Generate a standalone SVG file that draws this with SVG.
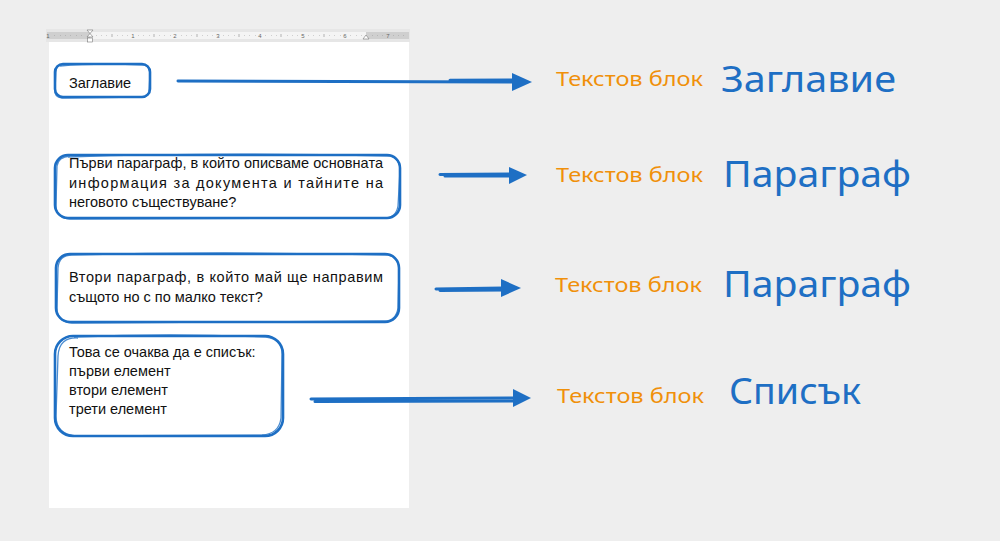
<svg xmlns="http://www.w3.org/2000/svg" width="1000" height="541" viewBox="0 0 1000 541">
<defs>
<style>
.sk{fill:none;stroke:#1e6fc4;stroke-width:2.6;stroke-linejoin:round;stroke-linecap:round}
.sk2{fill:none;stroke:#1e6fc4;stroke-width:1.3;opacity:.8}
.doc{font-family:"Liberation Sans",Arial,sans-serif;font-size:14.5px;fill:#111}
.lbl{font-family:"Noto Sans","Liberation Sans",sans-serif;font-size:20px;fill:#f0900a}
.big{font-family:"Noto Sans","Liberation Sans",sans-serif;font-size:36px;fill:#1e6fc4}
.ln{stroke:#1e6fc4;stroke-width:3;stroke-linecap:round;fill:none}
.hd{fill:#1e6fc4}
.rt{font-family:"Liberation Sans",sans-serif;font-size:6px;fill:#666}
</style>
</defs>
<rect width="1000" height="541" fill="#eeeeee"/>
<g id="page">
<rect x="49" y="42" width="360" height="466" fill="#ffffff"/>
<rect x="46" y="29" width="364" height="13" fill="#e6e6e6"/>
<rect x="47" y="32" width="362" height="7" fill="#f4f4f4"/>
<rect x="47" y="32" width="43" height="7" fill="#cfcfcf"/>
<rect x="366" y="32" width="43" height="7" fill="#cfcfcf"/>
<g stroke="#888" stroke-width="0.6">
<path d="M54 35.5h0.6M60 35.5h0.6M65 35.5h0.6M70 35.5h0.6M76 35.5h0.6M81 35.5h0.6M96 35.5h0.6M101 35.5h0.6M106 35.5h0.6M112 34v3M117 35.5h0.6M122 35.5h0.6M127 35.5h0.6M138 35.5h0.6M143 35.5h0.6M149 35.5h0.6M154 34v3M159 35.5h0.6M164 35.5h0.6M170 35.5h0.6M181 35.5h0.6M186 35.5h0.6M191 35.5h0.6M197 34v3M202 35.5h0.6M207 35.5h0.6M212 35.5h0.6M223 35.5h0.6M228 35.5h0.6M234 35.5h0.6M239 34v3M244 35.5h0.6M249 35.5h0.6M255 35.5h0.6M265 35.5h0.6M271 35.5h0.6M276 35.5h0.6M281 34v3M287 35.5h0.6M292 35.5h0.6M297 35.5h0.6M308 35.5h0.6M313 35.5h0.6M319 35.5h0.6M324 34v3M329 35.5h0.6M334 35.5h0.6M340 35.5h0.6M350 35.5h0.6M356 35.5h0.6M361 35.5h0.6M372 35.5h0.6M377 35.5h0.6M382 35.5h0.6M393 35.5h0.6M398 35.5h0.6M403 35.5h0.6"/>
</g>
<g class="rt" text-anchor="middle">
<text x="48" y="37.5">1</text>
<text x="133" y="37.5">1</text>
<text x="175" y="37.5">2</text>
<text x="218" y="37.5">3</text>
<text x="260" y="37.5">4</text>
<text x="303" y="37.5">5</text>
<text x="345" y="37.5">6</text>
<text x="388" y="37.5">7</text>
</g>
<path d="M87 30h6l-3 3.5z M87 37h6l-3-3.5z" fill="#fff" stroke="#777" stroke-width="0.6"/>
<rect x="87.5" y="38" width="5" height="4" fill="#fff" stroke="#777" stroke-width="0.6"/>
<path d="M363 39h6l-3-4z" fill="#fff" stroke="#777" stroke-width="0.6"/>
</g>
<g id="connectors">
<path class="ln" d="M178 81 L515 82"/>
<path class="ln" d="M450 80.2 L512 80" stroke-width="1.2"/>
<path class="hd" d="M512 73 L532 82 L512 91 Z"/>
<path class="ln" d="M440 174.5 L510 174"/>
<path class="ln" d="M445 176 L520 176" stroke-width="1.2"/>
<path class="hd" d="M509 167 L527 175 L509 184 Z"/>
<path class="ln" d="M436 289 L503 288"/>
<path class="ln" d="M440 290.5 L505 290" stroke-width="1.2"/>
<path class="hd" d="M501 279 L521 288 L501 297 Z"/>
<path class="ln" d="M311 399 L515 398"/>
<path class="ln" d="M315 401.5 L520 401" stroke-width="1.2"/>
<path class="hd" d="M513 389 L531 398 L513 407 Z"/>
</g>
<g id="box-title">
<rect class="sk" x="55" y="64" width="95" height="33" rx="8"/>
<path class="sk2" d="M60 66 Q95 63 144 65 Q150 66 150 74 L149 92 Q147 98 140 97 L62 98 Q54 97 55 90 L56 70 Q57 65 62 65"/>
<text class="doc" x="69" y="88">Заглавие</text>
</g>
<g id="box-para1">
<rect class="sk" x="55" y="155" width="345" height="63" rx="13"/>
<path class="sk2" d="M68 157 Q220 152 390 156 Q400 158 400 170 L398 206 Q396 218 384 218 L70 219 Q56 218 56 206 L57 166 Q58 157 70 156"/>
<text class="doc" x="69" y="168" textLength="314" lengthAdjust="spacing">Първи параграф, в който описваме основната</text>
<text class="doc" x="69" y="188" textLength="314" lengthAdjust="spacing">информация за документа и тайните на</text>
<text class="doc" x="69" y="207">неговото съществуване?</text>
</g>
<g id="box-para2">
<rect class="sk" x="56" y="254" width="343" height="68" rx="14"/>
<path class="sk2" d="M70 255 Q220 251 388 255 Q399 257 399 270 L398 308 Q396 321 384 321 L72 323 Q57 322 57 308 L58 268 Q59 255 72 255"/>
<text class="doc" x="69" y="282" textLength="314" lengthAdjust="spacing">Втори параграф, в който май ще направим</text>
<text class="doc" x="69" y="302">същото но с по малко текст?</text>
</g>
<g id="box-list">
<rect class="sk" x="55" y="336" width="228" height="100" rx="18"/>
<path class="sk2" d="M74 337 Q170 333 266 337 Q283 339 282 356 L281 418 Q279 434 262 435 L76 436 Q56 434 56 416 L58 356 Q59 337 78 338"/>
<text class="doc" x="69" y="357">Това се очаква да е списък:</text>
<text class="doc" x="69" y="376">първи елемент</text>
<text class="doc" x="69" y="395">втори елемент</text>
<text class="doc" x="69" y="414">трети елемент</text>
</g>
<g id="label-title">
<text class="lbl" x="556" y="86" textLength="147" lengthAdjust="spacingAndGlyphs">Текстов блок</text>
<text class="big" x="721" y="92" textLength="175" lengthAdjust="spacingAndGlyphs">Заглавие</text>
</g>
<g id="label-para1">
<text class="lbl" x="556" y="182" textLength="147" lengthAdjust="spacingAndGlyphs">Текстов блок</text>
<text class="big" x="723" y="187" textLength="188" lengthAdjust="spacingAndGlyphs">Параграф</text>
</g>
<g id="label-para2">
<text class="lbl" x="555" y="292" textLength="147" lengthAdjust="spacingAndGlyphs">Текстов блок</text>
<text class="big" x="723" y="297" textLength="188" lengthAdjust="spacingAndGlyphs">Параграф</text>
</g>
<g id="label-list">
<text class="lbl" x="557" y="403" textLength="147" lengthAdjust="spacingAndGlyphs">Текстов блок</text>
<text class="big" x="729" y="404" textLength="132" lengthAdjust="spacingAndGlyphs">Списък</text>
</g>
</svg>
